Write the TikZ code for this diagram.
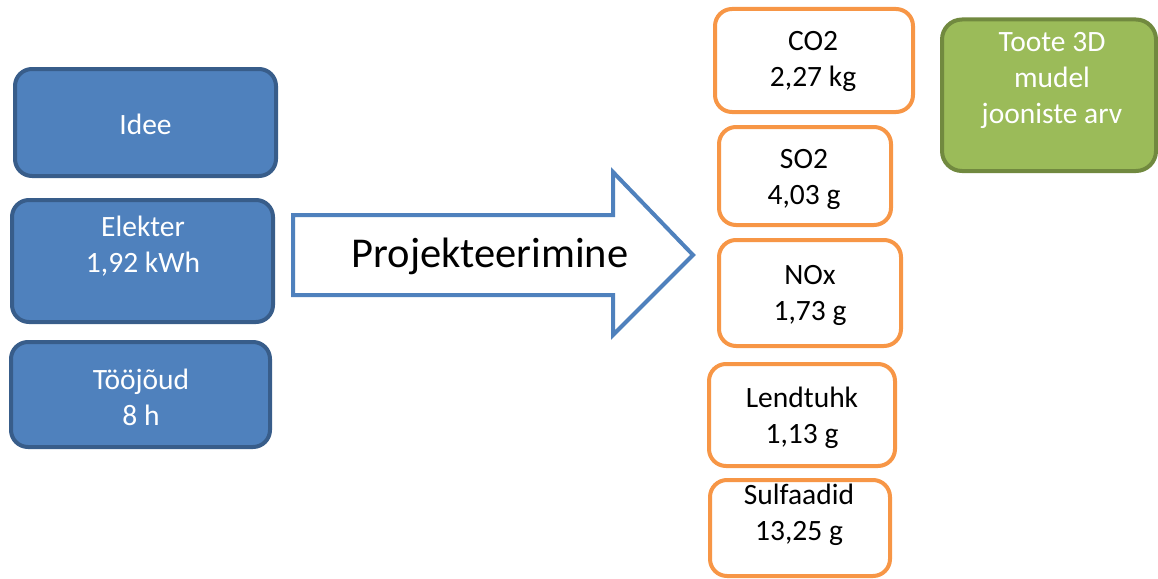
\documentclass[tikz,border=0pt]{standalone}
\usepackage{fontspec}
\setmainfont{Carlito}
\definecolor{bfill}{HTML}{4F81BD}
\definecolor{bline}{HTML}{385D8A}
\definecolor{gfill}{HTML}{9BBB59}
\definecolor{gline}{HTML}{71893F}
\definecolor{oline}{HTML}{F79646}
\begin{document}
\begin{tikzpicture}[x=1pt,y=-1pt,
  box/.style={rectangle,rounded corners=17pt,line width=4pt,inner sep=0pt},
  bluebox/.style={box,draw=bline,fill=bfill},
  orbox/.style={box,draw=oline,fill=white},
  grbox/.style={box,draw=gline,fill=gfill,rounded corners=20pt},
  txt/.style={align=center,inner sep=0pt,font=\fontsize{29.5}{36}\selectfont},
  wtxt/.style={txt,text=white},
  btxt/.style={txt,text=black}]
\useasboundingbox (0,0) rectangle (1158,578);
% blue input boxes
\node[bluebox,minimum width=261pt,minimum height=107pt] (idee) at (145.5,122.5) {};
\node[wtxt] (ideet) at (145.5,124) {Idee};
\node[bluebox,minimum width=261pt,minimum height=122pt] (elek) at (142.5,261) {};
\node[wtxt] (elekt) at (143,246.5) {Elekter\\1,92 kWh};
\node[bluebox,minimum width=259pt,minimum height=105pt] (too) at (140.5,394.5) {};
\node[wtxt] (toot) at (141,397.5) {Tööjõud\\8 h};
% big arrow
\draw[draw=bfill,line width=4pt,fill=white,line join=miter]
  (293,215) -- (613,215) -- (613,172) -- (693,255) -- (613,335) -- (613,295) -- (293,295) -- cycle;
\node[inner sep=0pt,font=\fontsize{42.5}{50}\selectfont] (proj) at (490,256) {Projekteerimine};
% orange output boxes
\node[orbox,minimum width=198pt,minimum height=103pt] (co2) at (814,60.5) {};
\node[btxt] (co2t) at (813,61) {CO2\\2,27 kg};
\node[orbox,minimum width=172pt,minimum height=98pt] (so2) at (805,176) {};
\node[btxt] (so2t) at (804,179.5) {SO2\\4,03 g};
\node[orbox,minimum width=182pt,minimum height=106pt] (nox) at (810,293) {};
\node[btxt] (noxt) at (810,295) {NOx\\1,73 g};
\node[orbox,minimum width=186pt,minimum height=102pt] (lend) at (802,415) {};
\node[btxt] (lendt) at (802,417.5) {Lendtuhk\\1,13 g};
\node[orbox,minimum width=180pt,minimum height=96pt] (sulf) at (800,528) {};
\node[btxt] (sulft) at (799,514.5) {Sulfaadid\\13,25 g};
% green box
\node[grbox,minimum width=214pt,minimum height=151.5pt] (toote) at (1049,95.25) {};
\node[wtxt] (tootet) at (1052,80) {Toote 3D\\mudel\\jooniste arv};
\end{tikzpicture}
\end{document}
